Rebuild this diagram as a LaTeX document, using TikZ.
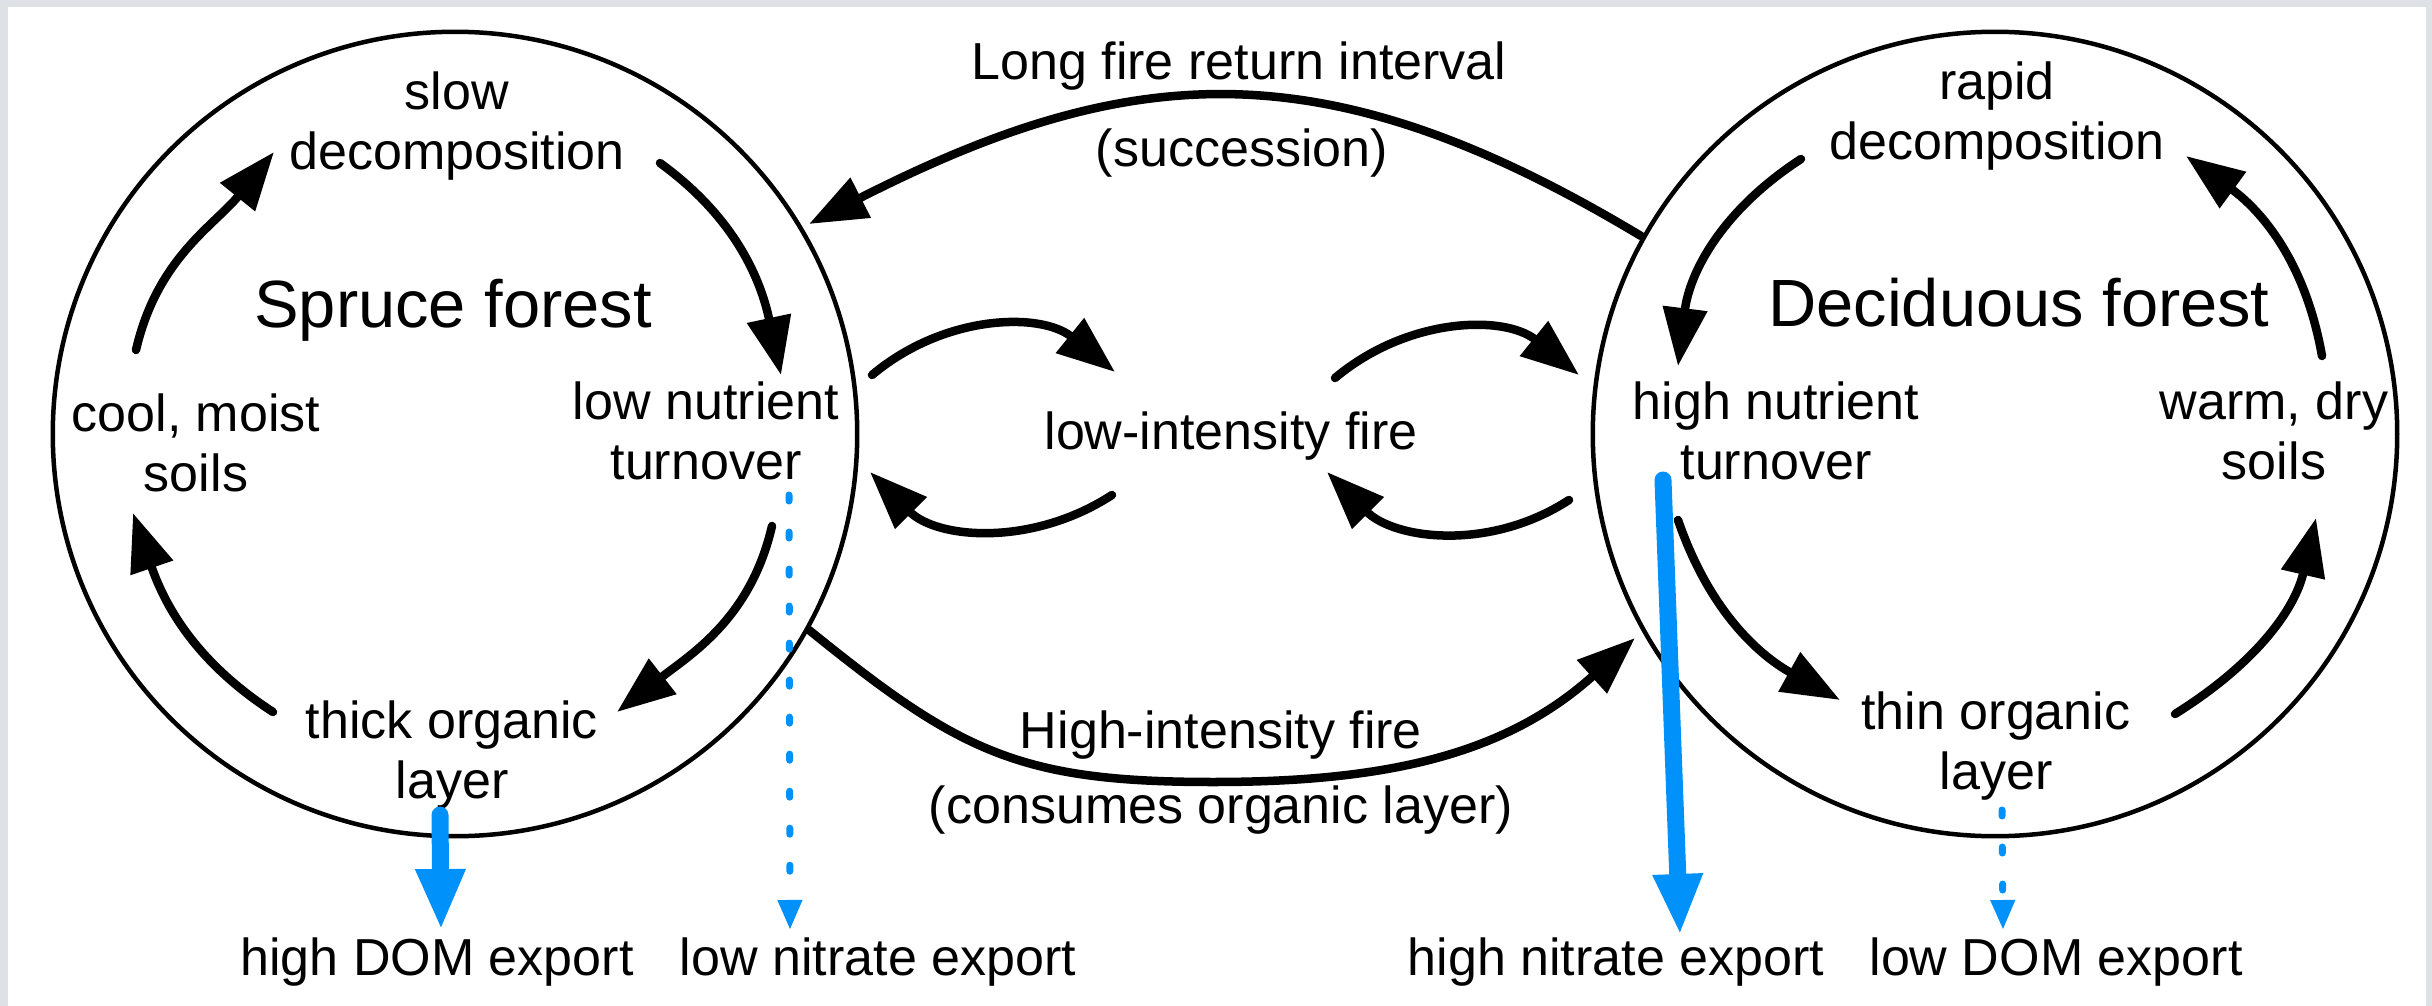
\documentclass[tikz,border=0pt]{standalone}
\usepackage{fontspec}
\setmainfont{Liberation Sans}
\usepackage{tikz}
\usetikzlibrary{arrows.meta}
\definecolor{framegray}{RGB}{222,226,231}
\definecolor{exportblue}{RGB}{0,145,250}

\tikzset{
  lbl/.style={font=\fontsize{14.8}{17}\selectfont,align=center,inner sep=0pt},
  ttl/.style={font=\fontsize{19}{23}\selectfont,inner sep=0pt},
  stand/.style={circle,draw,line width=0.045cm,minimum size=8.04cm,inner sep=0pt},
  flow/.style={line width=0.085cm,line cap=round,-{Triangle[length=5.8mm,width=4.3mm]}},
  highexp/.style={exportblue,line width=0.17cm,line cap=round,-{Triangle[length=6.1mm,width=4.6mm]}},
  lowexp/.style={exportblue,line width=0.07cm,line cap=round,dash pattern=on 0.06cm off 0.31cm,-{Triangle[length=3mm,width=2.3mm]}}
}

\begin{document}
\begin{tikzpicture}[x=0.01cm,y=-0.01cm]
\fill[framegray] (0,0) rectangle (2432,1006);
\fill[white] (8,7) rectangle (2426,1006);
\node[stand] (spruce) at (455,434) {};
\node[stand] (decid) at (1995,434) {};
\node[ttl] (sprucettl) at (453,310) {Spruce forest};
\node[ttl] (decidttl) at (2019,303) {Deciduous forest};
\node[lbl] (slowdec) at (457,126) {slow\\decomposition};
\node[lbl] (coolmoist) at (196,443) {cool, moist\\soils};
\node[lbl] (lownut) at (706,431) {low nutrient\\turnover};
\node[lbl] (thickorg) at (452,755) {thick organic\\layer};
\node[lbl] (rapiddec) at (1997,116) {rapid\\decomposition};
\node[lbl] (highnut) at (1776,431) {high nutrient\\turnover};
\node[lbl] (warmdry) at (2274,431) {warm, dry\\soils};
\node[lbl] (thinorg) at (1996,746) {thin organic\\layer};
\node[lbl] (longfire) at (1239,66) {Long fire return interval};
\node[lbl] (succession) at (1242,153) {(succession)};
\node[lbl] (lowfire) at (1231,436) {low-intensity fire};
\node[lbl] (highfire) at (1221,735) {High-intensity fire};
\node[lbl] (consumes) at (1221,810) {(consumes organic layer)};
\node[lbl] (highdom) at (437,962) {high DOM export};
\node[lbl] (lownit) at (878,962) {low nitrate export};
\node[lbl] (highnit) at (1616,962) {high nitrate export};
\node[lbl] (lowdom) at (2056,962) {low DOM export};
\coordinate (sp1) at (136,350); \coordinate (sp2) at (274,152);
\coordinate (sp3) at (660,163); \coordinate (sp4) at (781,375);
\coordinate (sp5) at (772,526); \coordinate (sp6) at (617,712);
\coordinate (sp7) at (273,712); \coordinate (sp8) at (133,513);
\coordinate (de1) at (1801,159); \coordinate (de2) at (1678,366);
\coordinate (de3) at (1678,520); \coordinate (de4) at (1840,700);
\coordinate (de5) at (2175,714); \coordinate (de6) at (2316,518);
\coordinate (de7) at (2322,356); \coordinate (de8) at (2186,156);
\coordinate (lo1) at (872,375); \coordinate (lo2) at (1115,372);
\coordinate (lo3) at (1112,495); \coordinate (lo4) at (870,472);
\coordinate (lo5) at (1335,378); \coordinate (lo6) at (1579,375);
\coordinate (lo7) at (1569,500); \coordinate (lo8) at (1327,472);
\coordinate (lf1) at (1641,236); \coordinate (lf2) at (809,224);
\coordinate (hi1) at (809,630); \coordinate (hibot) at (1213,782);
\coordinate (hi2) at (1635,638);
\foreach \a/\b/\o/\i in {sp1/sp2/77/231,sp3/sp4/-36/102,sp5/sp6/-103/38,sp7/sp8/147/289,
  de1/de2/213/83,de3/de4/-71/151,de5/de6/32/257,de7/de8/100/324,
  lo1/lo2/40/141,lo3/lo4/213/315,lo5/lo6/40/141,lo7/lo8/213/315}
  {\draw[flow] (\a) to[out=\o,in=\i] (\b);}
\draw[flow] (lf1) to[out=149,in=27,looseness=1.12] (lf2);
\draw[flow] (hi1) to[out=-39,in=180,looseness=1.15] (hibot) to[out=0,in=222] (hi2);
\coordinate (hd1) at (440,815); \coordinate (hd2) at (441,930);
\coordinate (ln1) at (789,495); \coordinate (ln2) at (790,930);
\coordinate (hn1) at (1663,480); \coordinate (hn2) at (1680,935);
\coordinate (ld1) at (2002,810); \coordinate (ld2) at (2003,930);
\draw[highexp] (hd1) -- (hd2);
\draw[highexp] (hn1) -- (hn2);
\draw[lowexp] (ln1) -- (ln2);
\draw[lowexp] (ld1) -- (ld2);
\end{tikzpicture}
\end{document}
